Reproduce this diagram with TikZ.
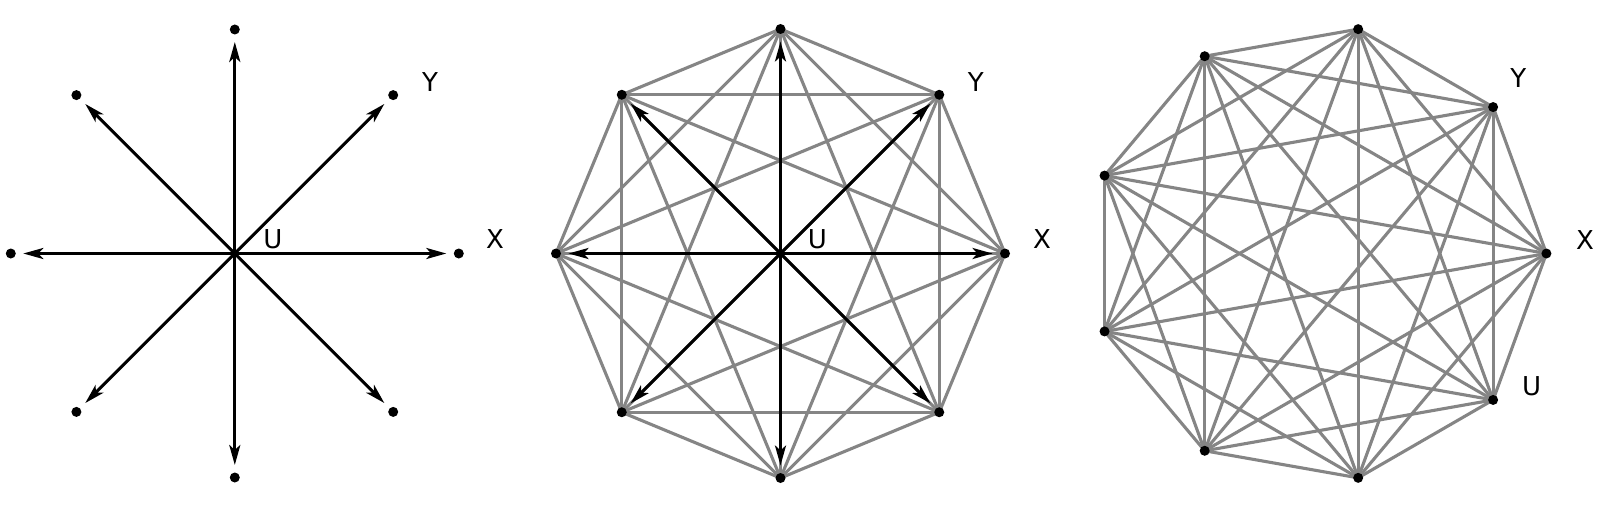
\documentclass[tikz,border=0pt]{standalone}
\usepackage{fontspec}
\setmainfont{DejaVu Sans}
\usetikzlibrary{arrows.meta}
\definecolor{edgegray}{RGB}{133,133,133}
\begin{document}
\begin{tikzpicture}[x=1pt,y=-1pt,
  dot/.style={circle,fill=black,inner sep=0pt,minimum size=10pt},
  edge/.style={draw=edgegray,line width=3.1pt},
  arr/.style={draw=black,line width=3pt,-{Stealth[length=20pt,width=11pt,inset=5pt]},shorten >=12.5pt},
  lbl/.style={inner sep=0pt,font=\fontsize{26}{30}\selectfont}]
\useasboundingbox (0,0) rectangle (1600,508);
% ---------- panel 1 ----------
\coordinate (c1) at (234.8,253.5);
\foreach \k in {0,...,7}{
  \node[dot] (a\k) at ({234.8+224*cos(45*\k)},{253.5-224*sin(45*\k)}) {};
}
\foreach \k in {0,...,7}{
  \draw[arr] (c1) -- (a\k.center);
}
\node[lbl] (u1) at (273,239) {U};
\node[lbl] (y1) at (430,82) {Y};
\node[lbl] (x1) at (495,239) {X};
% ---------- panel 2 ----------
\coordinate (c2) at (780.5,253.5);
\foreach \k in {0,...,7}{
  \coordinate (b\k) at ({780.5+224.5*cos(45*\k)},{253.5-224.5*sin(45*\k)});
}
\foreach \i in {0,...,7}{
  \foreach \j in {0,...,7}{
    \ifnum\i<\j \draw[edge] (b\i) -- (b\j); \fi
  }
}
\foreach \k in {0,...,7}{
  \draw[arr] (c2) -- (b\k);
}
\foreach \k in {0,...,7}{
  \node[dot] (bd\k) at (b\k) {};
}
\node[lbl] (u2) at (817.3,239.3) {U};
\node[lbl] (y2) at (975.7,81.7) {Y};
\node[lbl] (x2) at (1042,239) {X};
% ---------- panel 3 ----------
\foreach \k in {0,...,8}{
  \coordinate (d\k) at ({1318.6+227.8*cos(40*\k)},{253.5-227.8*sin(40*\k)});
}
\foreach \i in {0,...,8}{
  \foreach \j in {0,...,8}{
    \ifnum\i<\j \draw[edge] (d\i) -- (d\j); \fi
  }
}
\foreach \k in {0,...,8}{
  \node[dot] (dd\k) at (d\k) {};
}
\node[lbl] (y3) at (1518.3,78.3) {Y};
\node[lbl] (x3) at (1585,240) {X};
\node[lbl] (u3) at (1531.7,386.7) {U};
\end{tikzpicture}
\end{document}
